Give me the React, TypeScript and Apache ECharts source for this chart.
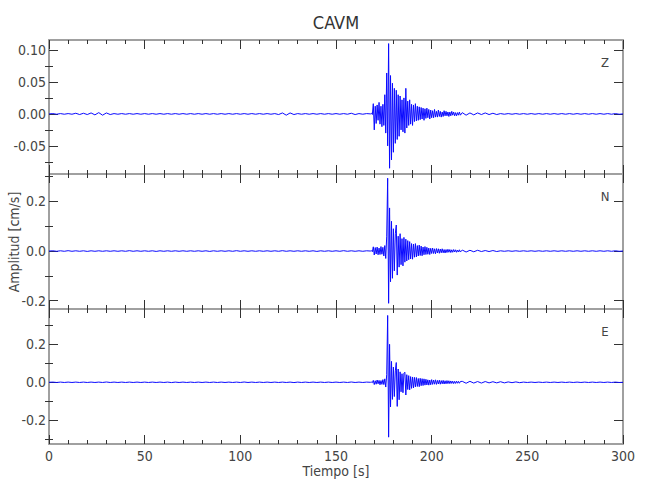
import { useEffect, useRef } from "react";
import * as echarts from "echarts";

const TITLE = "CAVM";
const X_LABEL = "Tiempo [s]";
const Y_LABEL = "Amplitud [cm/s]";
const COMPONENTS = ["Z", "N", "E"];

const X_MIN = 0;
const X_MAX = 300;
const X_INTERVAL = 50;

const Y_RANGES = [
  [-0.094, 0.1156],
  [-0.234, 0.311],
  [-0.325, 0.386],
];
const Y_MAJOR = [
  [-0.05, 0, 0.05, 0.1],
  [-0.2, 0, 0.2],
  [-0.2, 0, 0.2],
];
const Y_MINOR = [
  [-0.075, -0.025, 0.025, 0.075],
  [-0.1, 0.1, 0.3],
  [-0.3, -0.1, 0.1, 0.3],
];
const Y_DECIMALS = [2, 1, 1];

// sampling grid of the traces (s)
const PRE_START = 0;
const PRE_STEP = 2;
const EV_START = 168.5;
const EV_STEP = 0.5;
const POST_START = 216;
const POST_STEP = 2;

// ---- Z component ----
const zPre = [
  0.0, 0.0005, -0.0005, 0.0005, -0.0005, 0.0005, -0.0005, 0.001, -0.001, 0.001,
  -0.001, 0.0015, -0.0015, 0.002, -0.002, 0.0015, -0.001, 0.0005, -0.0005, 0.0005,
  -0.0005, 0.0005, -0.0005, 0.0005, -0.0005, 0.0005, -0.0005, 0.0005, -0.0005, 0.0005,
  -0.0005, 0.0005, -0.0005, 0.0005, -0.0005, 0.0005, -0.0005, 0.0005, -0.0005, 0.0005,
  -0.0005, 0.0005, -0.0005, 0.0005, -0.0005, 0.0005, -0.0005, 0.0005, -0.0005, 0.0005,
  -0.0005, 0.0005, -0.0005, 0.0005, -0.0005, 0.0005, -0.0005, 0.0005, -0.0005, 0.0005,
  -0.001, 0.0015, -0.002, 0.0015, -0.001, 0.0005, -0.0005, 0.0005, -0.0005, 0.0005,
  -0.0005, 0.0005, -0.0005, 0.0005, -0.0005, 0.0005, -0.0005, 0.0005, -0.0005, 0.001,
  -0.001, 0.0005, -0.0005, 0.0005, 0.0,
];
const zEvent = [
  0.001, -0.001, 0.016, -0.025, 0.012, -0.015, 0.014, -0.01, 0.018, -0.016,
  0.012, -0.02, 0.015, -0.018, 0.03, -0.03, 0.064, -0.05, 0.11, -0.085,
  0.06, -0.072, 0.048, -0.06, 0.04, -0.046, 0.037, -0.04, 0.03, -0.035,
  0.028, -0.025, 0.022, -0.028, 0.025, -0.03, 0.04, -0.022, 0.02, -0.018,
  0.022, -0.016, 0.015, -0.018, 0.014, -0.012, 0.016, -0.011, 0.012, -0.01,
  0.011, -0.009, 0.01, -0.008, 0.009, -0.01, 0.008, -0.007, 0.009, -0.006,
  0.007, -0.008, 0.006, -0.006, 0.005, -0.006, 0.007, -0.005, 0.004, -0.005,
  0.006, -0.004, 0.004, -0.005, 0.003, -0.004, 0.005, -0.003, 0.004, -0.003,
  0.003, -0.004, 0.003, -0.003, 0.004, -0.002, 0.003, -0.003, 0.002, -0.003,
  0.002, -0.002, 0.003, -0.002,
];
const zPost = [
  0.002, -0.002, 0.0015, -0.0015, 0.0015, -0.001, 0.0015, -0.001, 0.001, -0.001,
  0.0005, -0.0005, 0.0005, -0.0005, 0.0005, -0.0005, 0.0005, -0.0005, 0.0005, -0.0005,
  0.0005, -0.0005, 0.0005, -0.0005, 0.0005, -0.0005, 0.0005, -0.0005, 0.0005, -0.0005,
  0.0005, -0.0005, 0.0005, -0.0005, 0.0005, -0.0005, 0.0005, -0.0005, 0.0005, -0.0005,
  0.0005, -0.0005, 0.0,
];

// ---- N component ----
const nPre = [
  0.0, 0.001, -0.001, 0.001, -0.001, 0.0015, -0.001, 0.001, -0.001, 0.001,
  -0.0015, 0.001, -0.001, 0.001, -0.001, 0.001, -0.001, 0.001, -0.001, 0.001,
  -0.001, 0.0015, -0.001, 0.001, -0.001, 0.001, -0.001, 0.001, -0.0015, 0.001,
  -0.001, 0.001, -0.001, 0.001, -0.001, 0.001, -0.001, 0.001, -0.001, 0.001,
  -0.001, 0.001, -0.0015, 0.001, -0.001, 0.001, -0.001, 0.001, -0.001, 0.0015,
  -0.001, 0.001, -0.001, 0.001, -0.001, 0.001, -0.001, 0.001, -0.001, 0.001,
  -0.001, 0.0015, -0.001, 0.001, -0.001, 0.001, -0.001, 0.001, -0.001, 0.001,
  -0.0015, 0.001, -0.001, 0.001, -0.001, 0.001, -0.001, 0.0015, -0.001, 0.001,
  -0.001, 0.001, -0.001, 0.001, 0.0,
];
const nEvent = [
  0.002, -0.003, 0.017, -0.016, 0.014, -0.012, 0.016, -0.015, 0.012, -0.014,
  0.018, -0.013, 0.015, -0.02, 0.022, -0.03, 0.06, 0.294, -0.211, 0.174,
  -0.124, 0.12, -0.11, 0.09, -0.08, 0.07, 0.105, -0.097, 0.06, -0.065,
  0.07, -0.055, 0.05, -0.06, 0.055, -0.045, 0.048, -0.04, 0.042, -0.035,
  0.038, -0.032, 0.03, -0.033, 0.028, -0.025, 0.03, -0.024, 0.022, -0.02,
  0.024, -0.018, 0.02, -0.019, 0.016, -0.015, 0.018, -0.014, 0.015, -0.013,
  0.012, -0.014, 0.011, -0.01, 0.012, -0.01, 0.009, -0.011, 0.01, -0.008,
  0.009, -0.009, 0.008, -0.007, 0.009, -0.007, 0.006, -0.008, 0.006, -0.006,
  0.007, -0.005, 0.006, -0.006, 0.005, -0.005, 0.006, -0.004, 0.005, -0.005,
  0.004, -0.004, 0.005, -0.004,
];
const nPost = [
  0.004, -0.004, 0.003, -0.003, 0.003, -0.002, 0.002, -0.002, 0.002, -0.002,
  0.001, -0.001, 0.001, -0.001, 0.001, -0.001, 0.001, -0.001, 0.001, -0.001,
  0.001, -0.001, 0.001, -0.001, 0.001, -0.001, 0.001, -0.001, 0.001, -0.001,
  0.001, -0.001, 0.001, -0.001, 0.001, -0.001, 0.001, -0.001, 0.001, -0.001,
  0.001, -0.001, 0.0,
];

// ---- E component ----
const ePre = [
  0.0, 0.001, -0.001, 0.001, -0.001, 0.001, -0.001, 0.001, -0.001, 0.001,
  -0.001, 0.001, -0.001, 0.001, -0.001, 0.0015, -0.001, 0.001, -0.001, 0.001,
  -0.001, 0.001, -0.001, 0.001, -0.001, 0.001, -0.001, 0.001, -0.001, 0.001,
  -0.001, 0.001, -0.0015, 0.001, -0.001, 0.001, -0.001, 0.001, -0.001, 0.001,
  -0.001, 0.001, -0.001, 0.001, -0.001, 0.001, -0.001, 0.001, -0.001, 0.001,
  -0.001, 0.0015, -0.001, 0.001, -0.001, 0.001, -0.001, 0.001, -0.001, 0.001,
  -0.001, 0.001, -0.001, 0.001, -0.0015, 0.001, -0.001, 0.001, -0.001, 0.001,
  -0.001, 0.001, -0.001, 0.001, -0.001, 0.001, -0.001, 0.001, -0.001, 0.0015,
  -0.001, 0.001, -0.001, 0.001, 0.0,
];
const eEvent = [
  0.001, -0.002, 0.01, -0.012, 0.008, -0.01, 0.012, -0.008, 0.01, -0.013,
  0.009, -0.011, 0.014, -0.012, 0.018, -0.025, 0.04, 0.352, -0.289, 0.2,
  -0.13, 0.11, -0.09, 0.08, -0.075, 0.06, 0.104, -0.127, 0.07, -0.092,
  0.055, -0.05, 0.045, -0.055, 0.048, 0.053, -0.067, 0.04, -0.038, 0.035,
  -0.04, 0.03, -0.032, 0.028, -0.03, 0.026, -0.024, 0.025, -0.022, 0.02,
  -0.023, 0.021, -0.018, 0.019, -0.017, 0.018, -0.015, 0.016, -0.014, 0.013,
  -0.015, 0.012, -0.013, 0.014, -0.011, 0.012, -0.01, 0.013, -0.011, 0.01,
  -0.009, 0.011, -0.01, 0.009, -0.008, 0.01, -0.009, 0.008, -0.008, 0.009,
  -0.007, 0.008, -0.007, 0.007, -0.006, 0.006, -0.007, 0.005, -0.006, 0.006,
  -0.005, 0.005, -0.005, 0.004,
];
const ePost = [
  0.005, -0.005, 0.005, -0.004, 0.004, -0.004, 0.004, -0.003, 0.003, -0.003,
  0.003, -0.003, 0.002, -0.002, 0.002, -0.002, 0.001, -0.001, 0.001, -0.001,
  0.001, -0.001, 0.001, -0.001, 0.001, -0.001, 0.001, -0.001, 0.001, -0.001,
  0.001, -0.001, 0.001, -0.001, 0.001, -0.001, 0.001, -0.001, 0.001, -0.001,
  0.001, -0.001, 0.0,
];

const TRACES = [
  [zPre, zEvent, zPost],
  [nPre, nEvent, nPost],
  [ePre, eEvent, ePost],
];

function buildTrace(pre: number[], ev: number[], post: number[]) {
  const out: [number, number][] = [];
  pre.forEach((v, i) => out.push([PRE_START + i * PRE_STEP, v]));
  ev.forEach((v, i) => out.push([EV_START + i * EV_STEP, v]));
  post.forEach((v, i) => out.push([POST_START + i * POST_STEP, v]));
  return out;
}

const FONT = "'Liberation Sans Narrow', 'DejaVu Sans Condensed', 'Roboto', sans-serif";
const TEXT_COLOR = "#444";
const TICK_COLOR = "#333";
const AXIS_COLOR = "#a0a0a0";

const GRID_TOPS = [40, 174, 309];
const GRID_HEIGHTS = [134, 135, 135];
const GRID_LEFT = 49;
const GRID_RIGHT = 27;

export default function App() {
  const ref = useRef<HTMLDivElement>(null);

  useEffect(() => {
    if (!ref.current) return;
    const chart = echarts.init(ref.current, null, { renderer: "svg" });

    const grids = GRID_TOPS.map((top, i) => ({
      left: GRID_LEFT,
      right: GRID_RIGHT,
      top,
      height: GRID_HEIGHTS[i],
      containLabel: false,
    }));

    const xAxes: any[] = [];
    const yAxes: any[] = [];
    const series: any[] = [];

    TRACES.forEach((tr, i) => {
      ["bottom", "top"].forEach((pos) => {
        xAxes.push({
          type: "value",
          gridIndex: i,
          position: pos,
          min: X_MIN,
          max: X_MAX,
          interval: X_INTERVAL,
          axisLine: { show: true, onZero: false, lineStyle: { color: AXIS_COLOR, width: 2 } },
          axisTick: { show: true, inside: true, length: 9, lineStyle: { color: TICK_COLOR, width: 1 } },
          minorTick: { show: true, splitNumber: 5, length: 4, lineStyle: { color: TICK_COLOR, width: 1 } },
          axisLabel: {
            show: i === 2 && pos === "bottom",
            margin: 5,
            fontFamily: FONT,
            fontSize: 14,
            color: TEXT_COLOR,
          },
          splitLine: { show: false },
          minorSplitLine: { show: false },
        });
      });

      const [ymin, ymax] = Y_RANGES[i];
      ["left", "right"].forEach((pos) => {
        yAxes.push({
          type: "value",
          gridIndex: i,
          position: pos,
          min: ymin,
          max: ymax,
          axisLine: { show: true, onZero: false, lineStyle: { color: AXIS_COLOR, width: 2 } },
          axisTick: {
            show: true,
            inside: true,
            length: 9,
            customValues: Y_MAJOR[i],
            lineStyle: { color: TICK_COLOR, width: 1 },
          },
          axisLabel: {
            show: pos === "left",
            customValues: Y_MAJOR[i],
            margin: 3,
            fontFamily: FONT,
            fontSize: 14,
            color: TEXT_COLOR,
            formatter: (v: number) => v.toFixed(Y_DECIMALS[i]),
          },
          splitLine: { show: false },
        });
        yAxes.push({
          type: "value",
          gridIndex: i,
          position: pos,
          min: ymin,
          max: ymax,
          axisLine: { show: false },
          axisTick: {
            show: true,
            inside: true,
            length: 4,
            customValues: Y_MINOR[i],
            lineStyle: { color: TICK_COLOR, width: 1 },
          },
          axisLabel: { show: false, customValues: Y_MINOR[i] },
          splitLine: { show: false },
        });
      });

      series.push({
        type: "line",
        xAxisIndex: i * 2,
        yAxisIndex: i * 4,
        data: buildTrace(tr[0], tr[1], tr[2]),
        showSymbol: false,
        symbol: "none",
        lineStyle: { color: "#0a0aff", width: 1 },
        z: 1,
      });
    });

    const graphic: any[] = [
      {
        type: "text",
        x: 336,
        y: 22,
        style: {
          text: TITLE,
          fontFamily: FONT,
          fontSize: 18,
          fill: "#333",
          textAlign: "center",
          textVerticalAlign: "middle",
        },
      },
      {
        type: "text",
        x: 14,
        y: 242,
        rotation: Math.PI / 2,
        style: {
          text: Y_LABEL,
          fontFamily: FONT,
          fontSize: 14,
          fill: TEXT_COLOR,
          textAlign: "center",
          textVerticalAlign: "middle",
        },
      },
      {
        type: "text",
        x: 336,
        y: 471,
        style: {
          text: X_LABEL,
          fontFamily: FONT,
          fontSize: 14,
          fill: TEXT_COLOR,
          textAlign: "center",
          textVerticalAlign: "middle",
        },
      },
      ...COMPONENTS.map((c, i) => ({
        type: "text",
        x: 605,
        y: GRID_TOPS[i] + 22,
        style: {
          text: c,
          fontFamily: FONT,
          fontSize: 13,
          fill: TEXT_COLOR,
          textAlign: "center",
          textVerticalAlign: "middle",
        },
      })),
    ];

    chart.setOption({
      animation: false,
      backgroundColor: "#ffffff",
      grid: grids,
      xAxis: xAxes,
      yAxis: yAxes,
      series,
      graphic,
    });

    return () => chart.dispose();
  }, []);

  return (
    <div
      ref={ref}
      style={{ position: "fixed", left: 0, top: 0, width: 650, height: 500 }}
    />
  );
}
